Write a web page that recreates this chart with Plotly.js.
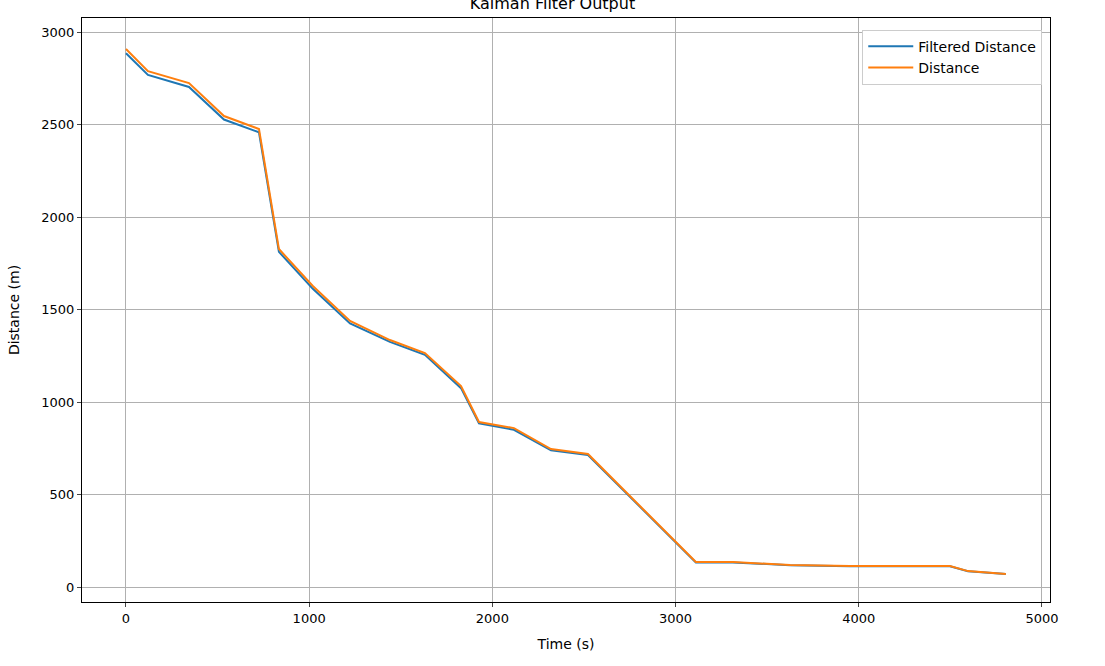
<!DOCTYPE html>
<html>
<head>
<script src="https://cdn.plot.ly/plotly-3.0.1.min.js"></script>
<style>body{margin:0;}</style>
</head>
<body>
<div id="chart" style="width:1105px;height:666px;"></div>
<script>
const time = [0, 120, 344, 535, 726, 835, 1020, 1223, 1441, 1632, 1829, 1927, 2118, 2320, 2522, 3111, 3313, 3625, 3952, 4498, 4596, 4803];
const distance = [2908, 2789, 2724, 2546, 2476, 1827, 1627, 1438, 1335, 1265, 1086, 892, 859, 746, 719, 135, 135, 119, 113, 113, 86, 70];
const filtered = [2885, 2768, 2703, 2527, 2458, 1812, 1612, 1425, 1325, 1255, 1075, 885, 850, 739, 714, 133, 133, 118, 112, 112, 85, 70];

const traces = [
    {x: time, y: filtered, mode: 'lines', name: 'Filtered Distance', line: {color: '#1f77b4', width: 2}},
    {x: time, y: distance, mode: 'lines', name: 'Distance', line: {color: '#ff7f0e', width: 2}}
];

const axisStyle = {
    showgrid: true, gridcolor: '#b0b0b0', gridwidth: 1,
    showline: true, linecolor: '#000', mirror: true,
    ticks: 'outside', ticklen: 4, zeroline: false,
    tickfont: {size: 13, color: '#000'}
};

const layout = {
    width: 1105, height: 666,
    margin: {l: 82, r: 55, t: 18, b: 64},
    paper_bgcolor: '#fff', plot_bgcolor: '#fff',
    font: {family: 'DejaVu Sans', color: '#000'},
    title: {text: 'Kalman Filter Output', y: 0.995, yanchor: 'middle', font: {size: 16}},
    xaxis: Object.assign({}, axisStyle, {range: [-240, 5044], dtick: 1000,
        title: {text: 'Time (s)', font: {size: 14}, standoff: 14}}),
    yaxis: Object.assign({}, axisStyle, {range: [-81, 3076], dtick: 500,
        title: {text: 'Distance (m)', font: {size: 14}, standoff: 18}}),
    legend: {x: 0.992, y: 0.98, xanchor: 'right', yanchor: 'top', itemwidth: 45,
        bgcolor: '#fff', bordercolor: '#ccc', borderwidth: 1, font: {size: 14},
        tracegroupgap: 4},
    showlegend: true
};

Plotly.newPlot('chart', traces, layout, {displayModeBar: false});
</script>
</body>
</html>
